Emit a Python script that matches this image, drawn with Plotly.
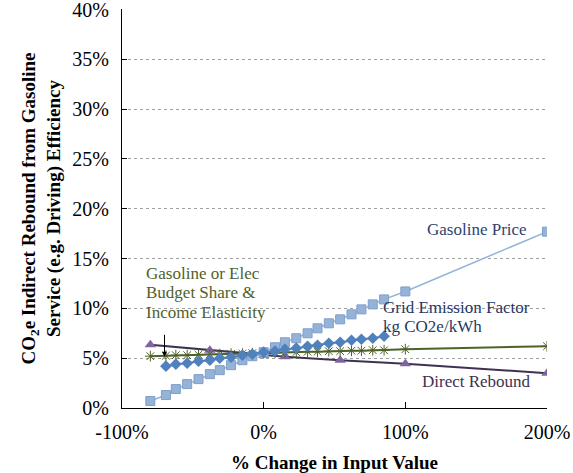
import plotly.graph_objects as go

# % change in input value (x axis)
x_all = [-80, -69, -62, -54, -46, -38, -31, -23, -15, -8, 0, 8, 15, 23, 31, 38, 46, 54, 62, 69, 77, 85, 100, 200]
x_grid = [-69, -62, -54, -46, -38, -31, -23, -15, -8, 0, 8, 15, 23, 31, 38, 46, 54, 62, 69, 77, 85]
x_direct = [-80, -38, 0, 15, 54, 100, 200]

# CO2e indirect rebound (%)
gas_price = [0.7, 1.3, 1.9, 2.4, 2.9, 3.4, 3.8, 4.3, 4.8, 5.2, 5.6, 6.1, 6.6, 7.0, 7.5, 8.0, 8.5, 8.9, 9.4, 9.9, 10.4, 10.9, 11.7, 17.7]
grid_factor = [4.2, 4.4, 4.5, 4.7, 4.8, 5.0, 5.1, 5.3, 5.4, 5.6, 5.7, 5.9, 6.0, 6.2, 6.3, 6.5, 6.6, 6.8, 6.9, 7.0, 7.2]
budget_share = [5.2, 5.25, 5.3, 5.3, 5.35, 5.4, 5.4, 5.45, 5.45, 5.5, 5.5, 5.55, 5.6, 5.6, 5.65, 5.65, 5.7, 5.7, 5.75, 5.75, 5.8, 5.8, 5.9, 6.2]
direct_rebound = [6.35, 5.8, 5.3, 5.15, 4.8, 4.45, 3.5]

x_ticks = [-100, 0, 100, 200]
x_labels = ["-100%", "0%", "100%", "200%"]
y_ticks = [0, 5, 10, 15, 20, 25, 30, 35, 40]
y_labels = ["0%", "5%", "10%", "15%", "20%", "25%", "30%", "35%", "40%"]

serif = "Liberation Serif"

fig = go.Figure()
fig.add_trace(go.Scatter(x=x_direct, y=direct_rebound, mode="lines+markers",
                         line=dict(color="#3F3151", width=2),
                         marker=dict(symbol="triangle-up", size=10, color="#8064A2",
                                     line=dict(color="#8064A2", width=0))))
fig.add_trace(go.Scatter(x=x_all, y=budget_share, mode="lines+markers",
                         line=dict(color="#4F6228", width=2),
                         marker=dict(symbol="asterisk-open", size=9,
                                     line=dict(color="#4F6228", width=1))))
fig.add_trace(go.Scatter(x=x_all, y=gas_price, mode="lines+markers",
                         line=dict(color="#95B3D7", width=1.5),
                         marker=dict(symbol="square", size=9, color="#95B3D7",
                                     line=dict(color="#7F9FCB", width=1))))
fig.add_trace(go.Scatter(x=x_grid, y=grid_factor, mode="lines+markers",
                         line=dict(color="#4F81BD", width=2),
                         marker=dict(symbol="diamond", size=9, color="#4F81BD",
                                     line=dict(color="#4F81BD", width=0))))

def note(text, x, y, color, anchor="left"):
    fig.add_annotation(x=x, y=y, text=text, showarrow=False, xanchor=anchor,
                       yanchor="middle", font=dict(family=serif, size=17, color=color))

note("Gasoline Price", 187, 17.9, "#2E4372", "right")
note("Grid Emission Factor", 82.5, 10.1, "#1F3864")
note("kg CO2e/kWh", 82.5, 8.2, "#1F3864")
note("Gasoline or Elec", -84.8, 13.5, "#4F6228")
note("Budget Share &", -84.8, 11.55, "#4F6228")
note("Income Elasticity", -84.8, 9.6, "#4F6228")
note("Direct Rebound", 190, 2.66, "#3F3151", "right")

fig.add_annotation(x=-70, y=5.15, ax=-70, ay=8.6, axref="x", ayref="y",
                   showarrow=True, arrowhead=2, arrowsize=1, arrowwidth=1,
                   arrowcolor="black", text=" ")

fig.update_layout(
    width=573, height=473,
    margin=dict(l=122, r=26, t=9, b=65, autoexpand=False),
    paper_bgcolor="white", plot_bgcolor="white",
    showlegend=False,
    font=dict(family=serif, size=20, color="black"),
)
fig.update_xaxes(range=[-100, 200], tickvals=x_ticks, ticktext=x_labels,
                 showgrid=False, zeroline=False, ticklabeloverflow="allow", automargin=False,
                 showline=True, linecolor="black", linewidth=1,
                 ticks="inside", ticklen=6, tickcolor="black", ticklabelstandoff=6,
                 tickfont=dict(family=serif, size=20),
                 title=dict(text="<b>% Change in Input Value</b>",
                            font=dict(family=serif, size=19), standoff=13))
fig.update_yaxes(range=[0, 40.05], tickvals=y_ticks, ticktext=y_labels,
                 showgrid=True, gridcolor="#A0A0A0", griddash="dot", gridwidth=1,
                 zeroline=False, ticklabeloverflow="allow", automargin=False,
                 showline=True, linecolor="black", linewidth=1,
                 ticks="inside", ticklen=5, tickcolor="black", ticklabelstandoff=8,
                 tickfont=dict(family=serif, size=20),
                 title=dict(text="<b>CO<sub>2</sub>e Indirect Rebound from Gasoline<br>Service (e.g. Driving) Efficiency</b>",
                            font=dict(family=serif, size=19), standoff=6))

# the page has a default 8px body margin; drop it so the figure sits at the corner
fig.write_html("out.html", config={"displayModeBar": False},
               post_script="document.body.style.margin='0';")
